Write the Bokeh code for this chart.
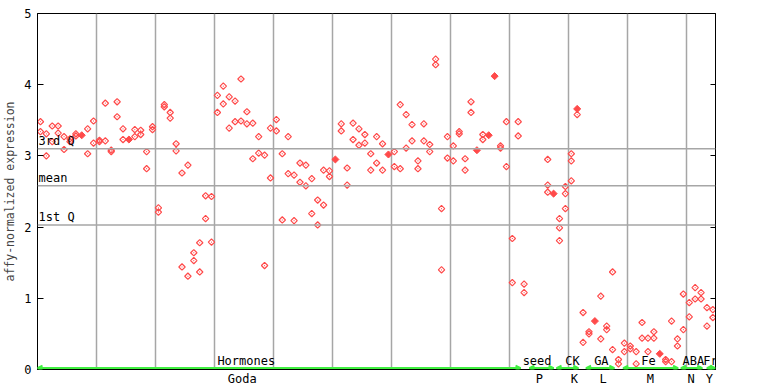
import numpy as np
from bokeh.plotting import figure
from bokeh.core.properties import value
from bokeh.models import (ColumnDataSource, FixedTicker, LinearAxis, Range1d,
                          LabelSet, Span, Arrow, OpenHead, CustomJSTickFormatter)
from bokeh.embed import file_html
from bokeh.resources import INLINE

nan = float("nan")

# ---------------- data ----------------
sample_idx = list(range(115))
rep1 = [3.48, 3.31, 3.42, 3.42, 3.27, 3.24, 3.31, 3.29, 3.38, 3.49,
        3.22, 3.74, 3.08, 3.76, 3.38, 3.23, 3.37, 3.36, 3.06, 3.41,
        2.27, 3.72, 3.61, 3.17, 2.76, 2.87, 1.64, 1.78, 2.44, 2.43,
        3.85, 3.98, 3.83, 3.77, 4.08, 3.62, 3.46, 3.27, 3.01, 3.39,
        3.51, 3.03, 3.27, 2.73, 2.90, 2.87, 2.68, 2.38, 2.80, 2.79,
        2.95, 3.45, 2.83, 3.46, 3.38, 3.30, 3.03, 3.27, 3.17, 3.02,
        3.06, 3.72, 3.58, 3.44, 2.93, 3.45, 3.16, 4.36, 2.26, 3.27,
        3.14, 3.34, 2.96, 3.76, 3.08, 3.30, 3.29, 4.12, 3.14, 3.48,
        1.84, 3.48, 1.20, nan, nan, nan, 2.95, 2.47, 2.12, 2.57,
        3.03, 3.66, 0.80, 0.53, 0.68, 1.03, 0.61, 1.37, 0.14, 0.37,
        0.33, 0.25, 0.66, 0.44, 0.53, 0.22, 0.14, 0.68, 0.43, 1.06,
        0.94, 1.15, 1.08, 0.87, 0.84]
rep2 = [3.34, 3.00, 3.20, 3.32, 3.09, 3.20, 3.28, 3.29, 3.03, 3.18,
        3.20, 3.21, 3.06, 3.55, 3.23, 3.22, 3.27, 3.30, 2.82, 3.37,
        2.21, 3.69, 3.53, 3.07, 1.44, 1.31, 1.53, 1.37, 2.12, 1.79,
        3.61, 3.73, 3.39, 3.48, 3.49, 3.45, 2.96, 3.04, 1.46, 2.69,
        3.35, 2.10, 2.75, 2.09, 2.63, 2.58, 2.19, 2.03, 2.31, 2.71,
        2.95, 3.35, 2.59, 3.23, 3.15, 3.18, 2.80, 2.90, 2.80, 3.02,
        2.85, 2.82, 3.11, 3.21, 2.82, 3.21, 3.06, 4.28, 1.40, 2.97,
        2.93, 3.31, 2.80, 3.61, 3.08, 3.23, 3.29, 4.12, 3.11, 2.85,
        1.22, 3.28, 1.08, nan, nan, nan, 2.59, 2.47, 1.99, 2.47,
        2.93, 3.66, 0.38, 0.50, 0.68, 0.43, 0.56, 0.28, 0.08, 0.25,
        0.29, 0.08, 0.44, 0.25, 0.44, 0.22, 0.11, 0.11, 0.33, 0.56,
        0.74, 0.99, 0.99, 0.61, 0.73]
extra_idx = [86, 88, 89, 90, 91]
extra_val = [2.49, 1.81, 2.26, 2.65, 3.58]

q_names = ["3rd Q", "mean", "1st Q"]
q_vals = [3.10, 2.58, 2.03]

grp_names = ["Hormones", "seed", "CK", "GA", "Fe", "ABA", "Fr"]
grp_label_pos = [34.9, 84.2, 90.2, 95.1, 103.1, 110.7, 113.6]
grp_start = [-0.5, 82.9, 87.5, 92.5, 98.8, 108.6, 113.0]
grp_end = [81.4, 87.0, 91.2, 97.3, 108.1, 112.2, 114.4]

src_names = ["Goda", "P", "K", "L", "M", "N", "Y"]
src_pos = [34.2, 84.6, 90.5, 95.4, 103.4, 110.3, 113.4]

y_ticks = [0, 1, 2, 3, 4, 5]
col_breaks = [9.5, 19.5, 29.5, 39.5, 49.5, 59.5, 69.5, 79.5, 89.5, 99.5, 109.5]

# ---------------- style ----------------
RED = "#ff4a4a"
GRID = "#a6a6a6"
GREEN = "#40f040"
FONT = "DejaVu Sans Mono"
ARROW_Y = 0.02

p = figure(frame_width=678, frame_height=356,
           min_border_left=37, min_border_right=53,
           min_border_top=13, min_border_bottom=15,
           x_range=Range1d(-0.5, 114.45), y_range=Range1d(0, 5),
           output_backend="svg", toolbar_location=None,
           background_fill_color="white", border_fill_color="white")

p.outline_line_color = "black"
p.outline_line_width = 1

# grid
p.xgrid.ticker = FixedTicker(ticks=col_breaks)
p.xgrid.grid_line_color = GRID
p.xgrid.grid_line_width = 1.5
p.ygrid.grid_line_color = None

# bottom axis carries the source labels
bx = p.xaxis[0]
bx.ticker = FixedTicker(ticks=src_pos)
bx.major_label_overrides = {float(k): t for k, t in zip(src_pos, src_names)}
bx.major_tick_in = 0
bx.major_tick_out = 0
bx.minor_tick_line_color = None
bx.axis_line_color = "black"
bx.major_label_text_font = FONT
bx.major_label_text_font_size = "12px"
bx.major_label_text_color = "black"
bx.major_label_standoff = 2

ax = p.yaxis[0]
ax.ticker = FixedTicker(ticks=y_ticks)
ax.major_tick_in = 6
ax.major_tick_out = 0
ax.minor_tick_line_color = None
ax.axis_line_color = "black"
ax.major_label_text_font = FONT
ax.major_label_text_font_size = "12px"
ax.major_label_text_color = "black"
ax.major_label_standoff = 6
ax.axis_label = "affy-normalized expression"
ax.axis_label_text_font = FONT
ax.axis_label_text_font_size = "11.5px"
ax.axis_label_text_font_style = "normal"
ax.axis_label_standoff = 4

rax = LinearAxis(ticker=FixedTicker(ticks=y_ticks), major_tick_in=5, major_tick_out=0,
                 minor_tick_line_color=None, axis_line_color="black",
                 formatter=CustomJSTickFormatter(code="return ''"),
                 major_label_standoff=0)
p.add_layout(rax, "right")

# quartile lines
for v in q_vals:
    p.add_layout(Span(location=v, dimension="width", line_color=GRID, line_width=1.5))
qsrc = ColumnDataSource(dict(x=[-0.5] * len(q_vals), y=q_vals, t=q_names))
p.add_layout(LabelSet(x="x", y="y", text="t", source=qsrc, x_offset=1, y_offset=1,
                      text_font=value(FONT), text_font_size=value("12px"), text_color="black",
                      text_baseline="bottom", text_align="left"))

# green experiment arrows along the bottom
for s, e in zip(grp_start, grp_end):
    p.add_layout(Arrow(x_start=s, y_start=ARROW_Y, x_end=e, y_end=ARROW_Y,
                       line_color=GREEN, line_width=2,
                       start=OpenHead(size=5, line_color=GREEN, line_width=2),
                       end=OpenHead(size=5, line_color=GREEN, line_width=2)))

# points
r1 = np.array(rep1)
r2 = np.array(rep2)
idx = np.array(sample_idx, dtype=float)
same = np.abs(r1 - r2) < 0.015

xs = np.concatenate([idx[~same], idx[~same], np.array(extra_idx, dtype=float)])
ys = np.concatenate([r1[~same], r2[~same], np.array(extra_val)])
ok = ~np.isnan(ys)
p.scatter(xs[ok], ys[ok], marker="square_dot", size=4.5, angle=np.pi / 4,
          line_color=RED, fill_color="white", fill_alpha=0, line_width=1.2)
p.scatter(idx[same], r1[same], marker="square", size=5, angle=np.pi / 4,
          line_color=RED, fill_color=RED, line_width=1)

# group labels
gsrc = ColumnDataSource(dict(x=grp_label_pos, y=[0] * len(grp_names), t=grp_names))
p.add_layout(LabelSet(x="x", y="y", text="t", source=gsrc, y_offset=2,
                      text_font=value(FONT), text_font_size=value("12px"), text_color="black",
                      text_baseline="bottom", text_align="center"))

open("out.html", "w").write(file_html(p, INLINE))
